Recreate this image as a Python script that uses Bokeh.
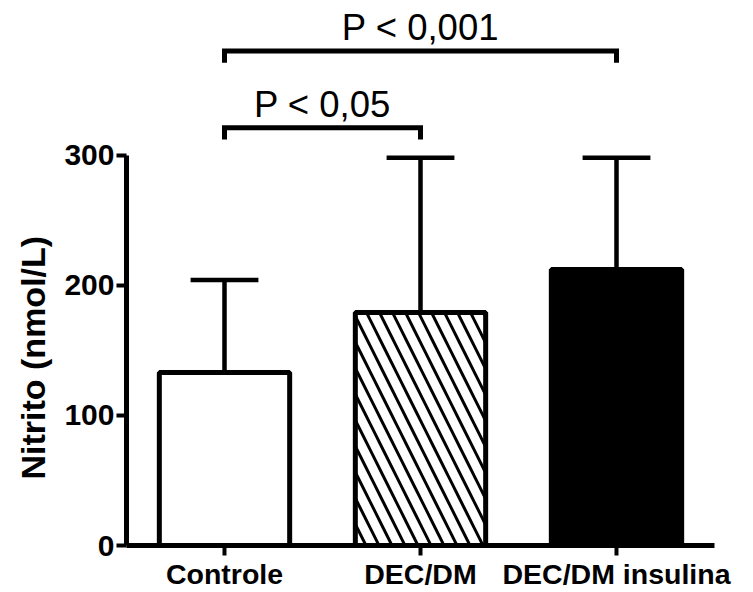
import math
from bokeh.plotting import figure
from bokeh.layouts import row
from bokeh.models import Range1d, FixedTicker, ColumnDataSource
from bokeh.core.properties import value
from bokeh.embed import file_html
from bokeh.resources import INLINE

# Nitrite concentration per group: mean and standard deviation (nmol/L)
categories = ["Controle", "DEC/DM", "DEC/DM insulina"]
means = [133, 179, 212]
sds = [71, 119, 86]
y_ticks = [0, 100, 200, 300]
y_title = "Nitrito (nmol/L)"

# Pairwise comparisons: (group A, group B, label, bracket height in nmol/L)
comparisons = [
    ("Controle", "DEC/DM insulina", "P < 0,001", 380),
    ("Controle", "DEC/DM", "P < 0,05", 321),
]

FONT = "Liberation Sans"
BAR_WIDTH = 0.665
CAP_HALF = 0.173
BRACKET_DROP = 9
LABEL_GAP = 18

TOTAL_W, TOTAL_H = 753, 592
TITLE_W = 60  # strip on the left holding the rotated y-axis title

xs = [i + 1 for i in range(len(categories))]
pos = dict(zip(categories, xs))

p = figure(
    width=TOTAL_W - TITLE_W, height=TOTAL_H,
    x_range=Range1d(0.5, 3.5), y_range=Range1d(0, 418.8),
    output_backend="svg", toolbar_location=None,
    min_border_left=126 - TITLE_W, min_border_right=39,
    min_border_top=0, min_border_bottom=42,
)
p.xgrid.visible = False
p.ygrid.visible = False
p.outline_line_color = None
p.background_fill_color = "white"
p.border_fill_color = "white"

# error bars (upper SD only), drawn beneath the bars
tops = [m + s for m, s in zip(means, sds)]
err = ColumnDataSource(dict(
    x=xs, y0=means, y1=tops,
    cx0=[x - CAP_HALF for x in xs], cx1=[x + CAP_HALF for x in xs],
))
p.segment(x0="x", y0="y0", x1="x", y1="y1", source=err,
          line_color="black", line_width=4.5)
p.segment(x0="cx0", y0="y1", x1="cx1", y1="y1", source=err,
          line_color="black", line_width=4.5)

bars = ColumnDataSource(dict(
    x=xs, top=means,
    fill=["white", "white", "black"],
    hatch=[" ", "\\", " "],
))
p.vbar(x="x", top="top", width=BAR_WIDTH, source=bars,
       fill_color="fill", line_color="black", line_width=5,
       hatch_pattern="hatch", hatch_color="black",
       hatch_scale=26, hatch_weight=3)

# significance brackets with their labels
for a, b, label, h in comparisons:
    xa, xb = pos[a], pos[b]
    p.line(x=[xa, xa, xb, xb], y=[h - BRACKET_DROP, h, h, h - BRACKET_DROP],
           line_color="black", line_width=5, line_join="miter")
    p.text(x=[(xa + xb) / 2], y=[h + LABEL_GAP], text=[label],
           text_font=value(FONT), text_font_size="36.5px",
           text_align="center", text_baseline="alphabetic",
           text_color="black")

# axes
xa = p.xaxis[0]
xa.ticker = FixedTicker(ticks=xs)
xa.major_label_overrides = {x: c for x, c in zip(xs, categories)}
xa.axis_line_width = 5
xa.major_tick_line_width = 4
xa.major_tick_out = 10
xa.major_tick_in = 0
xa.minor_tick_line_color = None
xa.major_label_standoff = 2
xa.major_label_text_font = FONT
xa.major_label_text_font_style = "bold"
xa.major_label_text_font_size = "28.5px"
xa.major_label_text_color = "black"

ya = p.yaxis[0]
ya.ticker = FixedTicker(ticks=y_ticks)
ya.bounds = (y_ticks[0], y_ticks[-1])
ya.axis_line_width = 5
ya.major_tick_line_width = 4
ya.major_tick_out = 10
ya.major_tick_in = 0
ya.minor_tick_line_color = None
ya.major_label_standoff = 2
ya.major_label_text_font = FONT
ya.major_label_text_font_style = "bold"
ya.major_label_text_font_size = "30px"
ya.major_label_text_color = "black"

# rotated y-axis title in a narrow strip to the left of the chart
t = figure(
    width=TITLE_W, height=TOTAL_H,
    x_range=Range1d(0, TITLE_W), y_range=Range1d(0, TOTAL_H),
    output_backend="svg", toolbar_location=None, min_border=0,
)
t.axis.visible = False
t.xgrid.visible = False
t.ygrid.visible = False
t.outline_line_color = None
t.background_fill_color = "white"
t.border_fill_color = "white"
t.text(x=[32.5], y=[TOTAL_H - 388], text=[y_title], angle=math.pi / 2,
       text_font=value(FONT), text_font_style="bold", text_font_size="34px",
       text_align="center", text_baseline="middle", text_color="black")

layout = row(t, p, spacing=0)
open("out.html", "w").write(file_html(layout, INLINE))
